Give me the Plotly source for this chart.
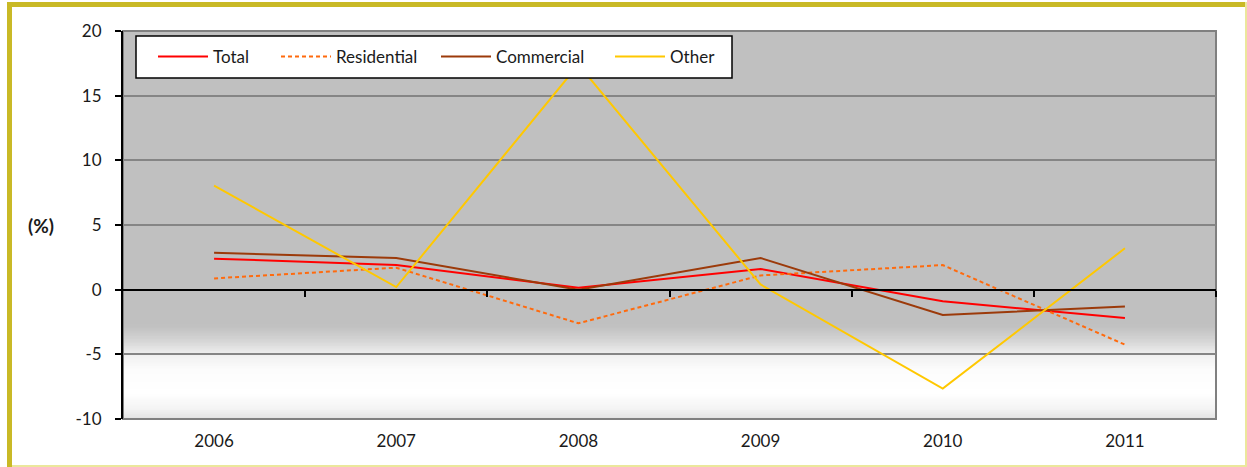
import plotly.graph_objects as go

years = ["2006", "2007", "2008", "2009", "2010", "2011"]
total = [2.4, 1.9, 0.15, 1.6, -0.9, -2.2]
residential = [0.87, 1.7, -2.6, 1.1, 1.9, -4.25]
commercial = [2.85, 2.45, 0.0, 2.45, -1.95, -1.3]
other = [8.05, 0.2, 17.4, 0.4, -7.65, 3.2]

y_ticks = [-10, -5, 0, 5, 10, 15, 20]
y_tick_labels = ["-10", "-5", "0", "5", "10", "15", "20"]
y_min, y_max = -10, 20

W, H = 1247, 467
ML, MR, MT, MB = 123, 31, 31, 48
PW, PH = W - ML - MR, H - MT - MB

def px_x(p):
    return (p - ML) / PW

def px_y(p):
    return (H - MB - p) / PH

fig = go.Figure()

series = [
    ("Total", total, "#ff0000", "solid", "legend", 153),
    ("Residential", residential, "#ff6a0d", "4px,3px", "legend2", 276),
    ("Commercial", commercial, "#9c3a0a", "solid", "legend3", 436),
    ("Other", other, "#ffc800", "solid", "legend4", 610),
]
for name, vals, color, dash, lg, _ in series:
    fig.add_trace(go.Scatter(x=years, y=vals, name=name, mode="lines", legend=lg,
                             line=dict(color=color, width=2, dash=dash)))

# dummy trace to activate the zero-line axis with boundary ticks
fig.add_trace(go.Scatter(x=[-0.5, 5.5], y=[None, None], xaxis="x2",
                         showlegend=False, hoverinfo="skip"))

shapes = []
# background gradient (Excel-like) as thin stripes, below grid
stops = [(-10, 0xe2), (-9.2, 0xf4), (-8, 0xff), (-6.2, 0xfc), (-5, 0xf0),
         (-4.0, 0xd6), (-2.8, 0xc0)]
n = 80
lo, hi = stops[0][0], stops[-1][0]
for i in range(n):
    a = lo + (hi - lo) * i / n
    b = lo + (hi - lo) * (i + 1) / n
    m = (a + b) / 2
    for (y0, c0), (y1, c1) in zip(stops[:-1], stops[1:]):
        if y0 <= m <= y1:
            c = int(round(c0 + (c1 - c0) * (m - y0) / (y1 - y0)))
            break
    col = "rgb(%d,%d,%d)" % (c, c, c)
    shapes.append(dict(type="rect", xref="paper", yref="y", x0=0, x1=1,
                       y0=a, y1=b + 0.15, fillcolor=col, line=dict(width=0),
                       layer="below"))
# plot area border
shapes.append(dict(type="rect", xref="paper", yref="paper", x0=0, x1=1, y0=0, y1=1,
                   line=dict(color="#808080", width=2), layer="below"))
# legend box
shapes.append(dict(type="rect", xref="paper", yref="paper", x0=px_x(136), x1=px_x(732),
                   y0=px_y(78), y1=px_y(36), fillcolor="white",
                   line=dict(color="black", width=1.5), layer="above"))
# outer frame
olive = "#c9b926"
light = "#ebe79c"
shapes += [
    dict(type="rect", xref="paper", yref="paper", x0=px_x(7), x1=px_x(1245),
         y0=px_y(7), y1=px_y(2), fillcolor=olive, line=dict(width=0)),
    dict(type="rect", xref="paper", yref="paper", x0=px_x(7), x1=px_x(12),
         y0=px_y(467), y1=px_y(2), fillcolor=olive, line=dict(width=0)),
    dict(type="rect", xref="paper", yref="paper", x0=px_x(1245), x1=px_x(1247),
         y0=px_y(467), y1=px_y(2), fillcolor=light, line=dict(width=0)),
    dict(type="rect", xref="paper", yref="paper", x0=px_x(12), x1=px_x(1247),
         y0=px_y(467), y1=px_y(465), fillcolor=light, line=dict(width=0)),
]

font_family = "Lato, 'Noto Sans', sans-serif"
txt = "#1a1a1a"

legends = {}
for name, vals, color, dash, lg, xpx in series:
    legends[lg] = dict(orientation="h", x=px_x(xpx), y=px_y(57), xanchor="left",
                       yanchor="middle", bgcolor="rgba(0,0,0,0)", borderwidth=0,
                       itemwidth=50, font=dict(size=17, color=txt))

fig.update_layout(
    width=W, height=H,
    margin=dict(l=ML, r=MR, t=MT, b=MB, pad=0),
    paper_bgcolor="white",
    plot_bgcolor="#c0c0c0",
    font=dict(family=font_family, size=17, color=txt),
    shapes=shapes,
    showlegend=True,
    **legends,
    xaxis=dict(type="category", range=[-0.5, 5.5], showgrid=False, showline=False,
               ticks="", zeroline=False, ticklabelstandoff=10),
    xaxis2=dict(overlaying="x", anchor="free", position=(0 - y_min) / (y_max - y_min),
                range=[-0.5, 5.5], showline=True, linecolor="black", linewidth=2,
                ticks="outside", ticklen=6, tickwidth=1.5, tickcolor="black",
                tickvals=[i + 0.5 for i in range(len(years))], showticklabels=False,
                showgrid=False, zeroline=False, side="bottom"),
    yaxis=dict(range=[y_min, y_max], tickvals=y_ticks, ticktext=y_tick_labels,
               showgrid=True, gridcolor="#858585", gridwidth=1.5, zeroline=False,
               showline=True, linecolor="black", linewidth=2,
               ticks="outside", ticklen=6, tickwidth=1.5, tickcolor="black",
               ticklabelstandoff=10),
    annotations=[dict(text="<b>(%)</b>", xref="paper", yref="paper",
                      x=px_x(41), y=0.5, xanchor="center", yanchor="middle",
                      showarrow=False, font=dict(size=19, color=txt))],
)

fig.write_html("out.html", config={"displayModeBar": False},
               post_script="document.body.style.margin='0px';")
